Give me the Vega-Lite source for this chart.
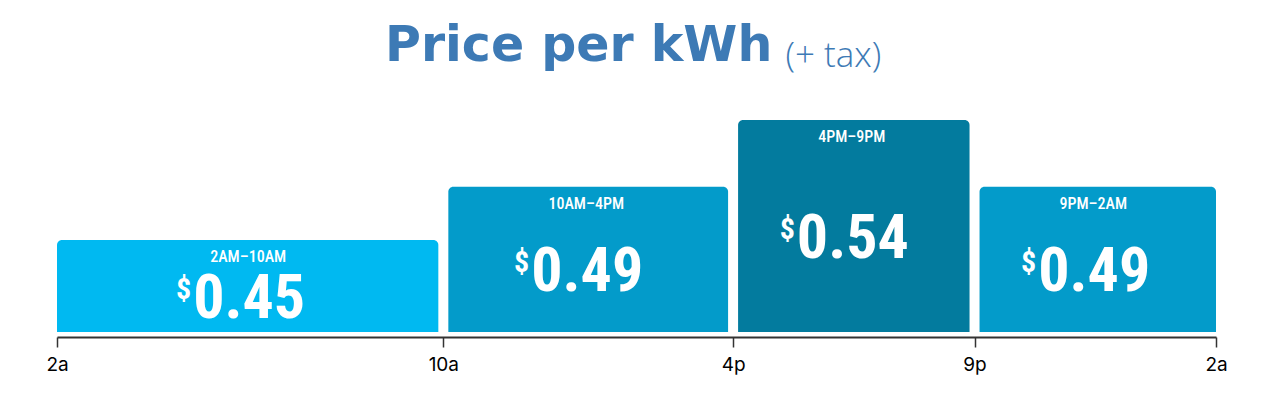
{
  "$schema": "https://vega.github.io/schema/vega-lite/v6.json",
  "width": 1159,
  "height": 212,
  "autosize": "none",
  "padding": {"left": 57, "top": 120, "right": 57, "bottom": 62},
  "background": "white",
  "title": {
    "text": "Price per kWh",
    "anchor": "start",
    "frame": "group",
    "dx": 328,
    "dy": 116,
    "offset": 44,
    "baseline": "alphabetic",
    "font": "DejaVu Sans",
    "fontSize": 49,
    "fontWeight": "bold",
    "color": "#3d7ab5"
  },
  "config": {"view": {"stroke": null}},
  "data": {
    "values": [
      {"period": "2AM–10AM", "start": 0, "end": 8, "mid": 4, "price": 0.45, "tier": "off"},
      {"period": "10AM–4PM", "start": 8, "end": 14, "mid": 11, "price": 0.49, "tier": "mid"},
      {"period": "4PM–9PM", "start": 14, "end": 19, "mid": 16.5, "price": 0.54, "tier": "peak"},
      {"period": "9PM–2AM", "start": 19, "end": 24, "mid": 21.5, "price": 0.49, "tier": "mid"}
    ]
  },
  "layer": [
    {
      "mark": {
        "type": "bar",
        "cornerRadiusTopLeft": 5,
        "cornerRadiusTopRight": 5,
        "xOffset": {"expr": "datum.start == 0 ? 0 : 5"},
        "x2Offset": {"expr": "datum.end == 24 ? 0 : -5"}
      },
      "encoding": {
        "x": {
          "field": "start",
          "type": "quantitative",
          "scale": {"domain": [0, 24], "nice": false, "zero": false},
          "axis": {
            "orient": "bottom",
            "values": [0, 8, 14, 19, 24],
            "labelExpr": "datum.value == 0 || datum.value == 24 ? '2a' : datum.value == 8 ? '10a' : datum.value == 14 ? '4p' : '9p'",
            "title": null,
            "grid": false,
            "domainColor": "#333333",
            "domainWidth": 2,
            "tickColor": "#333333",
            "tickWidth": 1.5,
            "tickSize": 10,
            "labelFont": "Inter",
            "labelFontSize": 19,
            "labelColor": "#000000",
            "labelPadding": 8,
            "labelFlush": false,
            "labelBound": false,
            "labelOverlap": false,
            "offset": 5
          }
        },
        "x2": {"field": "end"},
        "y": {
          "field": "price",
          "type": "quantitative",
          "scale": {"domain": [0.381, 0.54], "nice": false, "zero": false},
          "axis": null
        },
        "y2": {"datum": 0.381},
        "color": {
          "field": "tier",
          "type": "nominal",
          "scale": {"domain": ["off", "mid", "peak"], "range": ["#00b9f1", "#039bca", "#037b9e"]},
          "legend": null
        }
      }
    },
    {
      "mark": {
        "type": "text",
        "color": "white",
        "font": "Roboto Condensed, DejaVu Sans Condensed, Liberation Sans Narrow, Roboto",
        "fontSize": 16,
        "fontWeight": 500,
        "baseline": "alphabetic",
        "dx": -2,
        "dy": 22
      },
      "encoding": {
        "x": {
          "field": "mid",
          "type": "quantitative",
          "axis": {
            "orient": "top",
            "domain": false,
            "ticks": false,
            "labels": false,
            "grid": false,
            "title": "(+ tax)",
            "titleX": 728,
            "titleY": -54,
            "titleAlign": "left",
            "titleAnchor": null,
            "titleAngle": 0,
            "titleBaseline": "alphabetic",
            "titleFont": "Open Sans",
            "titleFontSize": 35,
            "titleFontWeight": 300,
            "titleColor": "#3d7ab5"
          }
        },
        "y": {"field": "price", "type": "quantitative"},
        "text": {"field": "period"}
      }
    },
    {
      "mark": {
        "type": "text",
        "color": "white",
        "font": "Roboto Condensed, DejaVu Sans Condensed, Liberation Sans Narrow, Roboto",
        "fontSize": 62,
        "fontWeight": "bold",
        "align": "left",
        "baseline": "alphabetic",
        "dx": -57,
        "dy": {"expr": "(height - scale('y', datum.price)) / 2 + 31.5"}
      },
      "encoding": {
        "x": {"field": "mid", "type": "quantitative", "axis": null},
        "y": {"field": "price", "type": "quantitative"},
        "text": {"field": "price", "format": ".2f"}
      }
    },
    {
      "mark": {
        "type": "text",
        "color": "white",
        "font": "Roboto Condensed, DejaVu Sans Condensed, Liberation Sans Narrow, Roboto",
        "fontSize": 30,
        "fontWeight": "bold",
        "align": "right",
        "baseline": "alphabetic",
        "dx": -59,
        "dy": {"expr": "(height - scale('y', datum.price)) / 2 + 12.5"}
      },
      "encoding": {
        "x": {"field": "mid", "type": "quantitative", "axis": null},
        "y": {"field": "price", "type": "quantitative"},
        "text": {"value": "$"}
      }
    }
  ]
}
